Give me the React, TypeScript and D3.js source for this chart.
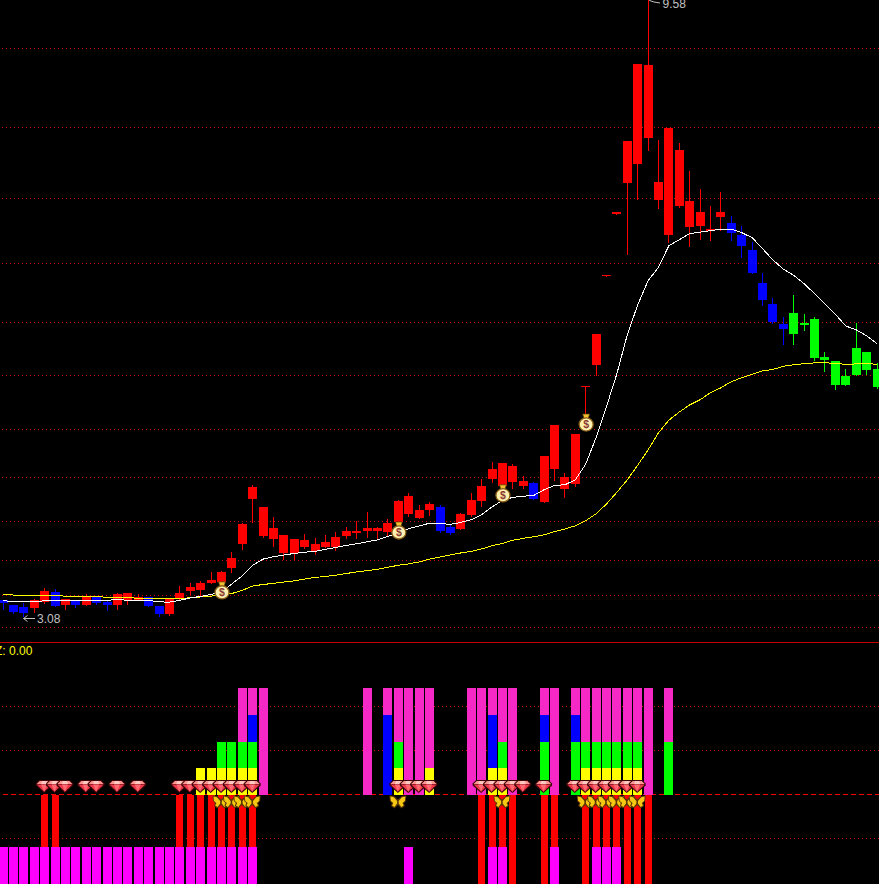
import React from "react";
import * as d3 from "d3";

const WIDTH = 879;
const HEIGHT = 884;

// Candle colour class per session: B blue, R red, G green
const candleClasses = ("BBBRRBRBRBBRRRBB" + "RRRRRRRRRRRRRRRRRRRRRRRRRR" + "BB" + "RRRRRRR" + "B" + "RRRRRRRRRRRRRRRRRR" + "BBBBBB" + "GGGGGGGGG").split("");

const bodyHigh = [3.176,3.146,3.134,3.176,3.229,3.223,3.181,3.170,3.193,3.193,3.164,3.211,3.217,3.193,3.193,3.140,3.181,3.217,3.253,3.277,3.295,3.343,3.430,3.653,3.913,3.770,3.627,3.581,3.555,3.548,3.522,3.535,3.568,3.607,3.607,3.627,3.627,3.660,3.813,3.849,3.748,3.791,3.770,3.633,3.719,3.820,3.920,4.042,4.088,4.064,3.956,3.942,4.143,4.387,3.985,4.316,4.717,5.192,5.788,6.501,7.419,8.545,8.529,6.876,7.597,7.295,6.639,6.501,6.304,6.501,6.372,6.235,6.064,5.705,5.487,5.286,5.393,5.296,5.334,4.974,4.936,4.803,5.059,5.021,4.861];
const bodyLow = [3.158,3.104,3.098,3.128,3.164,3.140,3.146,3.146,3.146,3.158,3.146,3.146,3.176,3.176,3.140,3.092,3.092,3.181,3.229,3.235,3.277,3.283,3.366,3.522,3.827,3.574,3.555,3.463,3.463,3.502,3.476,3.502,3.502,3.574,3.594,3.607,3.607,3.600,3.666,3.719,3.692,3.748,3.607,3.594,3.620,3.712,3.813,3.971,3.920,3.949,3.920,3.827,3.806,4.042,3.899,3.935,4.704,4.898,5.772,6.482,6.864,7.103,7.460,6.651,6.235,6.576,6.327,6.338,6.281,6.441,6.258,6.110,5.809,5.528,5.305,5.239,5.192,5.277,4.965,4.946,4.725,4.725,4.811,4.855,4.708];
const highs = [3.176,3.146,3.158,3.181,3.247,3.241,3.181,3.176,3.211,3.193,3.176,3.217,3.217,3.211,3.193,3.140,3.181,3.259,3.277,3.289,3.343,3.349,3.470,3.660,3.928,3.770,3.698,3.581,3.555,3.587,3.561,3.581,3.600,3.633,3.673,3.734,3.633,3.685,3.820,3.870,3.784,3.806,3.784,3.646,3.727,3.870,3.971,4.096,4.088,4.080,3.992,3.949,4.143,4.387,4.014,4.316,4.717,5.192,5.788,6.501,7.419,8.545,9.58,7.432,7.597,7.391,7.014,6.789,6.576,6.751,6.451,6.338,6.156,5.809,5.549,5.352,5.580,5.383,5.352,5.021,4.936,4.861,5.296,5.021,4.917];
const lows = [3.122,3.098,3.08,3.104,3.158,3.140,3.122,3.134,3.146,3.152,3.116,3.122,3.152,3.176,3.140,3.080,3.086,3.176,3.211,3.205,3.277,3.283,3.343,3.489,3.666,3.568,3.509,3.424,3.424,3.496,3.456,3.502,3.483,3.561,3.561,3.568,3.561,3.581,3.666,3.705,3.692,3.712,3.600,3.587,3.620,3.705,3.777,3.949,3.920,3.906,3.906,3.827,3.806,3.964,3.841,3.920,4.427,4.811,5.772,6.482,6.019,6.664,7.295,6.551,6.156,6.564,6.110,6.190,6.178,6.292,6.178,5.985,5.809,5.476,5.296,5.097,5.097,5.230,4.946,4.846,4.691,4.725,4.811,4.820,4.699];

const whiteAverage = [3.170,3.167,3.164,3.165,3.170,3.170,3.171,3.171,3.171,3.173,3.174,3.176,3.174,3.174,3.173,3.164,3.162,3.173,3.187,3.196,3.208,3.220,3.271,3.319,3.385,3.424,3.439,3.450,3.460,3.468,3.473,3.486,3.499,3.512,3.522,3.535,3.548,3.571,3.594,3.623,3.640,3.659,3.656,3.651,3.664,3.682,3.716,3.770,3.816,3.838,3.846,3.851,3.892,3.923,3.928,3.964,4.080,4.285,4.538,4.822,5.182,5.476,5.726,5.871,6.110,6.178,6.247,6.264,6.281,6.298,6.300,6.258,6.201,6.076,5.950,5.851,5.783,5.695,5.591,5.487,5.383,5.267,5.230,5.173,5.097];
const yellowAverage = [3.208,3.204,3.202,3.201,3.199,3.199,3.198,3.196,3.195,3.193,3.192,3.189,3.187,3.186,3.184,3.183,3.183,3.185,3.187,3.193,3.198,3.202,3.213,3.232,3.258,3.267,3.274,3.282,3.289,3.300,3.310,3.316,3.324,3.334,3.344,3.352,3.360,3.373,3.385,3.394,3.406,3.424,3.437,3.450,3.463,3.473,3.489,3.509,3.525,3.545,3.558,3.568,3.581,3.602,3.620,3.641,3.675,3.723,3.791,3.874,3.964,4.072,4.190,4.324,4.426,4.493,4.553,4.596,4.656,4.699,4.752,4.787,4.818,4.848,4.861,4.889,4.903,4.913,4.920,4.920,4.917,4.905,4.911,4.913,4.908];

const priceGrid = [8.792,7.598,6.663,5.909,5.298,4.805,4.348,3.978,3.668,3.413,3.199,3.015];
const signalGrid = [3.31,1.66,-1.64];

const bagSessions = [21,38,48,56];
const bagPrices = [3.229,3.607,3.863,4.403];

// Lower panel
const magentaSessions = [0,1,2,3,4,5,6,7,8,9,10,11,12,13,14,15,16,17,18,19,20,21,22,23,24,39,47,48,53,57,58,59];
const redSessions = [4,5,17,18,19,20,21,22,23,24,46,47,48,49,52,53,56,57,58,59,60,61,62];
const stackSessions = [19,20,21,22,23,24,25,35,37,38,39,40,41,45,46,47,48,49,52,53,55,56,57,58,59,60,61,62,64];
const stackLevels = ["Y","Y","YG","YG","YGPP","YGBP","PPPP","PPPP","BBBP","YGPP","PPPP","PPPP","YPPP","PPPP","PPPP","YBBP","YGPP","PPPP","GGBP","PPPP","GGBP","YGPP","YGPP","YGPP","YGPP","YGPP","YGPP","PPPP","GGPP"];
const gemSessions = [4,5,6,8,9,11,13,17,18,19,20,21,22,23,24,38,39,40,41,46,47,48,49,50,52,55,56,57,58,59,60,61];
const butterflySessions = [21,22,23,24,38,48,56,57,58,59,60,61];

const lowLabel = "3.08";
const highLabel = "9.58";
const signalLabel = "Z: 0.00";

const candleFill: Record<string, string> = { B: "#0000ff", R: "#ff0000", G: "#00ff00" };
const stackFill: Record<string, string> = { Y: "#ffff00", G: "#00ff00", B: "#0000ff", P: "#f628c6" };

const x = d3.scaleLinear().domain([0, 84]).range([3, 877]);
const y = d3.scaleLog().domain([3.08, 9.58]).range([616.4, 2.2]);
const s = d3.scaleLinear().domain([0, 4]).range([795, 688]);
const left = (i: number) => Math.round(x(i) - 4.5);

const averageLine = d3.line<number>().x((_, i) => x(i)).y((d) => y(d));

function Gem({ i }: { i: number }) {
  return (
    <g transform={`translate(${x(i) - 0.5},786)`}>
      <polygon points="-5,-6 5,-6 8.5,-2.5 8.5,-0.5 0,7 -8.5,-0.5 -8.5,-2.5" fill="#3a0508" />
      <polygon points="-4.5,-5 4.5,-5 7.5,-2 -7.5,-2" fill="#ff9590" />
      <polygon points="-7.5,-1.5 7.5,-1.5 0,5.8" fill="#f0384a" />
      <polygon points="-3,-1.5 3,-1.5 0,5.8" fill="#ff6a72" />
      <polygon points="-2,-5 2,-5 3,-2 -3,-2" fill="#ffc8c0" />
    </g>
  );
}

function Butterfly({ i }: { i: number }) {
  return (
    <g transform={`translate(${x(i) - 0.5},802)`}>
      <polygon points="0,-2.5 -4,-6 -8.5,-6.5 -8,-1 -6,1 -7,4 -3.5,6.5 0,3 3.5,6.5 7,4 6,1 8,-1 8.5,-6.5 4,-6" fill="#5a3600" />
      <polygon points="-0.8,-1 -4,-4.8 -7.5,-5.4 -7,-1 -4.6,1 -5.8,3.6 -3.4,5 -0.8,1.5" fill="#f6c812" />
      <polygon points="0.8,-1 4,-4.8 7.5,-5.4 7,-1 4.6,1 5.8,3.6 3.4,5 0.8,1.5" fill="#f6c812" />
    </g>
  );
}

function Bag({ i, price }: { i: number; price: number }) {
  return (
    <g transform={`translate(${x(i) + 0.5},${y(price)})`}>
      <polygon points="-3.5,-9 3.5,-9 2,-4 -2,-4" fill="#f0c030" stroke="#4a3000" strokeWidth={0.7} />
      <ellipse cx={0} cy={1.5} rx={7} ry={6.6} fill="#fff0b0" stroke="#8a6018" strokeWidth={1.3} />
      <text x={0} y={5.2} textAnchor="middle" fontFamily="'Liberation Sans'" fontSize={10.5} fontWeight={700} fill="#8a3a30">$</text>
    </g>
  );
}

export default function App() {
  return (
    <svg width={WIDTH} height={HEIGHT} viewBox={`0 0 ${WIDTH} ${HEIGHT}`} style={{ position: "absolute", left: 0, top: 0, background: "#000" }}>
      <rect width={WIDTH} height={HEIGHT} fill="#000" />

      {priceGrid.map((v) => (
        <line key={v} x1={2} x2={WIDTH} y1={Math.floor(y(v)) + 0.5} y2={Math.floor(y(v)) + 0.5} stroke="#d00000" strokeDasharray="1 3" shapeRendering="crispEdges" />
      ))}

      {candleClasses.map((c, i) => {
        const top = Math.round(y(bodyHigh[i]));
        const bottom = Math.round(y(bodyLow[i]));
        const hi = Math.round(y(highs[i]));
        const lo = Math.round(y(lows[i]));
        const fill = candleFill[c];
        return (
          <g key={i} shapeRendering="crispEdges">
            <rect x={left(i) + 4} y={i === 62 ? 0 : hi} width={1} height={lo - (i === 62 ? 0 : hi) + 1} fill={fill} />
            <rect x={left(i)} y={top} width={9} height={Math.max(1, bottom - top)} fill={fill} />
          </g>
        );
      })}

      <path d={averageLine(yellowAverage) ?? ""} fill="none" stroke="#ffff00" strokeWidth={1} shapeRendering="crispEdges" />
      <path d={averageLine(whiteAverage) ?? ""} fill="none" stroke="#ffffff" strokeWidth={1} shapeRendering="crispEdges" />

      {bagSessions.map((i, k) => <Bag key={i} i={i} price={bagPrices[k]} />)}

      <g stroke="#c0c0c0" fill="none" strokeWidth={1}>
        <path d="M23.5,618.5H35M23.5,618.5L27.5,615.5M23.5,618.5L27.5,621.5" />
        <path d="M649.5,0.5L654,2L660,3M649.5,0.5L652.5,-2" />
      </g>
      <text x={37} y={623} fontFamily="'Liberation Sans'" fontSize={12} fill="#c0c0c0">{lowLabel}</text>
      <text x={662.5} y={8} fontFamily="'Liberation Sans'" fontSize={12} fill="#c0c0c0">{highLabel}</text>

      <rect x={0} y={642} width={WIDTH} height={1} fill="#c00000" />
      <text x={-5} y={655} fontFamily="'Liberation Sans'" fontSize={12} fill="#ffff00">{signalLabel}</text>

      {signalGrid.map((v) => (
        <line key={v} x1={2} x2={WIDTH} y1={Math.floor(s(v)) + 0.5} y2={Math.floor(s(v)) + 0.5} stroke="#d00000" strokeDasharray="1 3" shapeRendering="crispEdges" />
      ))}
      <line x1={3} x2={WIDTH} y1={794.5} y2={794.5} stroke="#ff0000" strokeDasharray="5 3" shapeRendering="crispEdges" />

      <g shapeRendering="crispEdges">
        {redSessions.map((i) => (
          <rect key={i} x={left(i) + 1} y={s(0)} width={7} height={HEIGHT - s(0)} fill="#ff0000" />
        ))}
        {magentaSessions.map((i) => (
          <rect key={i} x={left(i)} y={s(-1.94)} width={9} height={HEIGHT - s(-1.94)} fill="#ff00ff" />
        ))}
        {stackSessions.map((i, k) =>
          stackLevels[k].split("").map((c, level) => (
            <rect key={`${i}-${level}`} x={left(i)} y={Math.round(s(level + 1))} width={9} height={Math.round(s(level)) - Math.round(s(level + 1))} fill={stackFill[c]} />
          ))
        )}
      </g>

      {gemSessions.map((i) => <Gem key={i} i={i} />)}
      {butterflySessions.map((i) => <Butterfly key={i} i={i} />)}
    </svg>
  );
}
